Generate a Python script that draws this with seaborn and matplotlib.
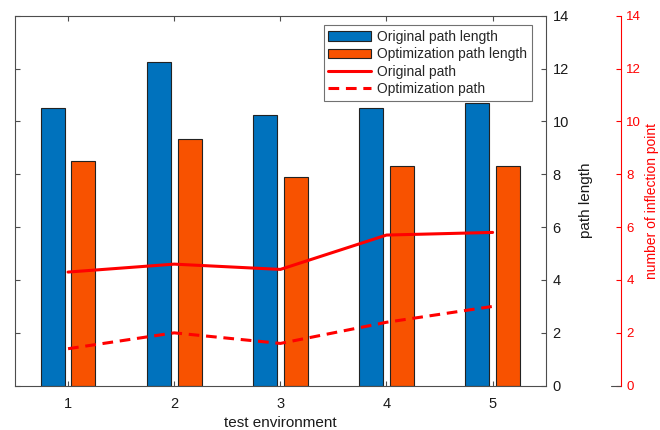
import numpy as np
import pandas as pd
import matplotlib
matplotlib.use("Agg")
import matplotlib.pyplot as plt
import seaborn as sns
from matplotlib.lines import Line2D

# ---- data ----
environments = [1, 2, 3, 4, 5]
original_length = [10.5, 12.25, 10.25, 10.5, 10.7]
optimized_length = [8.5, 9.35, 7.9, 8.32, 8.32]
original_inflection = [4.3, 4.6, 4.4, 5.7, 5.8]
optimized_inflection = [1.4, 2.0, 1.6, 2.4, 3.0]
y_ticks = [0, 2, 4, 6, 8, 10, 12, 14]
bar_names = ["Original path length", "Optimization path length"]
line_names = ["Original path", "Optimization path"]

sns.set_theme(style="white")
plt.rcParams["font.family"] = ["Liberation Sans", "DejaVu Sans"]

bars = pd.DataFrame({
    "env": environments * 2,
    "length": original_length + optimized_length,
    "kind": [bar_names[0]] * len(environments) + [bar_names[1]] * len(environments),
})
lines = pd.DataFrame({
    "env": environments * 2,
    "count": original_inflection + optimized_inflection,
    "kind": [line_names[0]] * len(environments) + [line_names[1]] * len(environments),
})

blue = "#0072BD"
orange = "#F85200"
red = "#FF0000"
axc = "#4d4d4d"

fig = plt.figure(figsize=(6.6, 4.3), dpi=100)
ax = fig.add_axes([0.0227, 0.103, 0.8041, 0.8605])

sns.barplot(data=bars, x="env", y="length", hue="kind", native_scale=True,
            palette=[blue, orange], saturation=1, width=0.58, gap=0.22,
            edgecolor="#222222", linewidth=0.8, ax=ax, legend=True)

ax2 = ax.twinx()
sns.lineplot(data=lines, x="env", y="count", style="kind", color=red,
             dashes={line_names[0]: "", line_names[1]: (3.5, 2.2)},
             linewidth=2.2, ax=ax2, legend=True)

ax.set_xlim(0.5, 5.5)
ax.set_ylim(0, 14)
ax.set_xticks(environments)
ax.set_xticklabels([str(e) for e in environments])
ax.set_yticks(y_ticks)
ax.set_yticklabels([str(t) for t in y_ticks])
ax.tick_params(axis="y", left=True, right=True, labelleft=False, labelright=True,
               direction="in", length=3.5, width=0.8, color=axc, labelsize=10.5,
               labelcolor="#1a1a1a", pad=5)
ax.tick_params(axis="x", bottom=True, top=True, direction="in", length=3.5, width=0.8,
               color=axc, labelsize=10.5, labelcolor="#1a1a1a", pad=8)
ax.yaxis.set_label_position("right")
ax.set_ylabel("path length", fontsize=11, color="#1a1a1a", labelpad=7)
ax.set_xlabel("test environment", fontsize=11, color="#1a1a1a", labelpad=4)
for s in ax.spines.values():
    s.set_visible(True)
    s.set_color(axc)
    s.set_linewidth(0.8)

ax2.set_ylim(0, 14)
ax2.set_yticks(y_ticks)
ax2.set_yticklabels([str(t) for t in y_ticks])
for k in ["left", "top", "bottom"]:
    ax2.spines[k].set_visible(False)
ax2.spines["right"].set_position(("axes", 1.1413))
ax2.spines["right"].set_color(red)
ax2.spines["right"].set_linewidth(0.8)
ax2.tick_params(axis="y", right=True, left=False, labelleft=False, labelright=True,
                direction="in", length=3.5, width=0.8,
                color=red, labelcolor=red, labelsize=9.5, pad=4)
ax2.set_ylabel("number of inflection point", color=red, fontsize=10, labelpad=3)
ax2.set_xlabel("")
ax2.add_line(Line2D([1.1413 - 0.019, 1.1413], [0, 0], transform=ax2.transAxes,
                    color=axc, lw=0.8, clip_on=False))

h1, l1 = ax.get_legend_handles_labels()
h2, l2 = ax2.get_legend_handles_labels()
if ax.get_legend() is not None:
    ax.get_legend().remove()
if ax2.get_legend() is not None:
    ax2.get_legend().remove()
leg = ax2.legend(h1 + h2, l1 + l2, loc="upper right", bbox_to_anchor=(0.974, 0.975),
                 fontsize=10, frameon=True, fancybox=False, edgecolor=axc,
                 handlelength=3.1, handletextpad=0.4, borderpad=0.35,
                 labelspacing=0.25, borderaxespad=0)
leg.get_frame().set_linewidth(0.8)

fig.savefig("out.png", dpi=100, facecolor="white")
